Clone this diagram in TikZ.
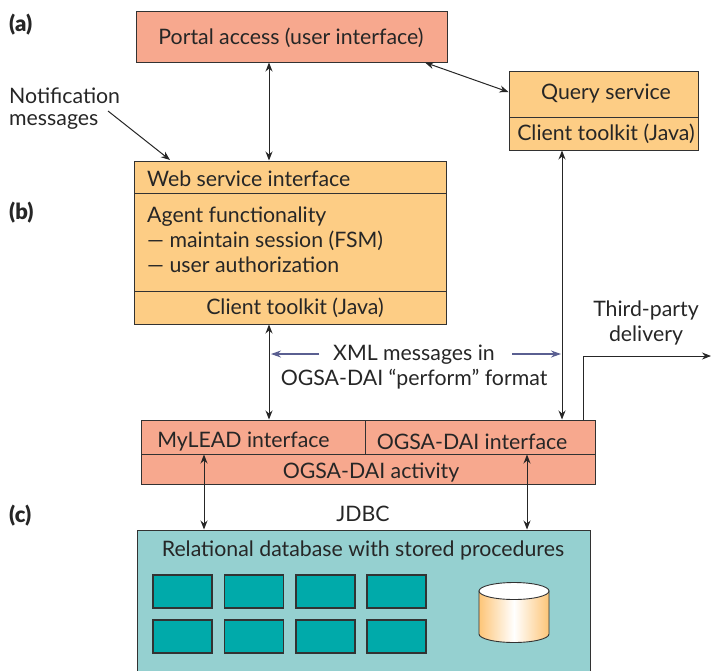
\documentclass[tikz,border=0pt]{standalone}
\usepackage{fontspec}
\setmainfont{Lato}
\newfontfamily\tagfont{Lato Black}
\usetikzlibrary{arrows.meta,shapes.geometric}
\definecolor{salmon}{RGB}{247,168,142}
\definecolor{tan}{RGB}{253,205,133}
\definecolor{dbfill}{RGB}{149,208,208}
\definecolor{cell}{RGB}{0,170,170}
\definecolor{edge}{RGB}{50,50,50}
\definecolor{msg}{RGB}{90,95,145}
\tikzset{
  x=1pt,y=-1pt,
  box/.style={draw=edge,line width=1.1pt,fill=#1,rectangle,inner sep=0pt},
  cellbox/.style={draw=edge,line width=1.1pt,fill=cell,rectangle,inner sep=0pt,minimum width=59pt,minimum height=33pt},
  lbl/.style={font=\fontsize{21.3}{25}\selectfont,text=black!85,inner sep=0pt,align=left},
  tag/.style={font=\fontsize{22}{26}\selectfont\tagfont,text=black!85,inner sep=0pt},
  link/.style={draw=black!85,line width=1pt,{Stealth[length=9pt,width=7pt]}-{Stealth[length=9pt,width=7pt]}},
  oneway/.style={draw=black!85,line width=1pt,-{Stealth[length=9pt,width=7pt]}},
  msgline/.style={draw=msg,line width=1.1pt,-{Stealth[length=10pt,width=7pt]}},
}
\begin{document}
\begin{tikzpicture}
\useasboundingbox (0,0) rectangle (711,670);
% boxes
\node[box=salmon,minimum width=311.5pt,minimum height=51pt,anchor=north west] (portal) at (135.5,11) {};
\node[box=tan,minimum width=189pt,minimum height=46pt,anchor=north west] (query) at (509,71) {};
\node[box=tan,minimum width=189pt,minimum height=33pt,anchor=north west] (qtool) at (509,117) {};
\node[box=tan,minimum width=312pt,minimum height=32pt,anchor=north west] (web) at (134,161) {};
\node[box=tan,minimum width=312pt,minimum height=98pt,anchor=north west] (agent) at (134,193) {};
\node[box=tan,minimum width=312pt,minimum height=33pt,anchor=north west] (ctool) at (134,291) {};
\node[box=salmon,minimum width=224pt,minimum height=34pt,anchor=north west] (mylead) at (141,420) {};
\node[box=salmon,minimum width=230pt,minimum height=34pt,anchor=north west] (ogsa) at (365,420) {};
\node[box=salmon,minimum width=454pt,minimum height=30pt,anchor=north west] (activity) at (141,454) {};
\node[box=dbfill,minimum width=453.5pt,minimum height=145pt,anchor=north west] (db) at (136.5,530) {};
% cells
\foreach \n/\cx/\cy in {a/182.5/591.5,b/254/591.5,c/325.5/591.5,d/396.5/591.5,e/182.5/636.5,f/254/636.5,g/325.5/636.5,h/396.5/636.5}
  \node[cellbox] (cell\n) at (\cx,\cy) {};
% cylinder
\path[left color=tan!90!orange,right color=tan!90!orange,middle color=white,draw=edge,line width=0.9pt]
  (479,591) -- (479,634) arc[start angle=180,end angle=360,x radius=35,y radius=-8.5] -- (549,591) -- cycle;
\draw[fill=white,draw=edge,line width=0.9pt] (514,591) ellipse[x radius=35,y radius=8.5];
% texts
\node[lbl] (tportal) at (291,38) {Portal access (user interface)};
\node[lbl] (tquery) at (606,94) {Query service};
\node[lbl] (tqtool) at (606,134) {Client toolkit (Java)};
\node[lbl,anchor=west] (tweb) at (147,179) {Web service interface};
\node[lbl,anchor=north west] (tagent) at (147,207) {Agent functionality\\— maintain session (FSM)\\— user authorization};
\node[lbl] (tctool) at (295,307.5) {Client toolkit (Java)};
\node[lbl] (tmylead) at (243.5,442) {MyLEAD interface};
\node[lbl] (togsa) at (472,442) {OGSA-DAI interface};
\node[lbl] (tact) at (371,473) {OGSA-DAI activity};
\node[lbl] (tjdbc) at (363,514) {JDBC};
\node[lbl] (tdb) at (363,550) {Relational database with stored procedures};
\node[lbl,align=center] (txml) at (414,367.5) {XML messages in\\OGSA-DAI “perform” format};
\node[lbl,align=center] (tthird) at (646,323) {Third-party\\delivery};
\node[lbl,anchor=west] (tnotif) at (9,96) {Notification};
\node[lbl,anchor=west] (tmsgs) at (9,122) {messages};
\node[tag,anchor=west] (ta) at (9,25) {(a)};
\node[tag,anchor=west] (tb) at (9,213) {(b)};
\node[tag,anchor=west] (tc) at (9,516) {(c)};
% connectors
\coordinate (out) at (711,356);
\coordinate (notifstart) at (108,111);
\coordinate (notifend) at (170,160);
\coordinate (xleft) at (271,354);
\coordinate (xleftstart) at (319,354);
\coordinate (xright) at (561,354);
\coordinate (xrightstart) at (512,354);
\draw[link] (269,62.5) -- (269,160.5);
\draw[link] (269,324.5) -- (269,419.5);
\draw[link] (562,150.5) -- (562,419.5);
\draw[link] (425,62.5) -- (508.5,92);
\draw[link] (204,454.5) -- (204,529.5);
\draw[link] (527,454.5) -- (527,529.5);
\draw[oneway] (notifstart) -- (notifend);
\draw[oneway] (583,420) -- (583,356) -- (out);
\draw[msgline] (xleftstart) -- (xleft);
\draw[msgline] (xrightstart) -- (xright);
\end{tikzpicture}
\end{document}
